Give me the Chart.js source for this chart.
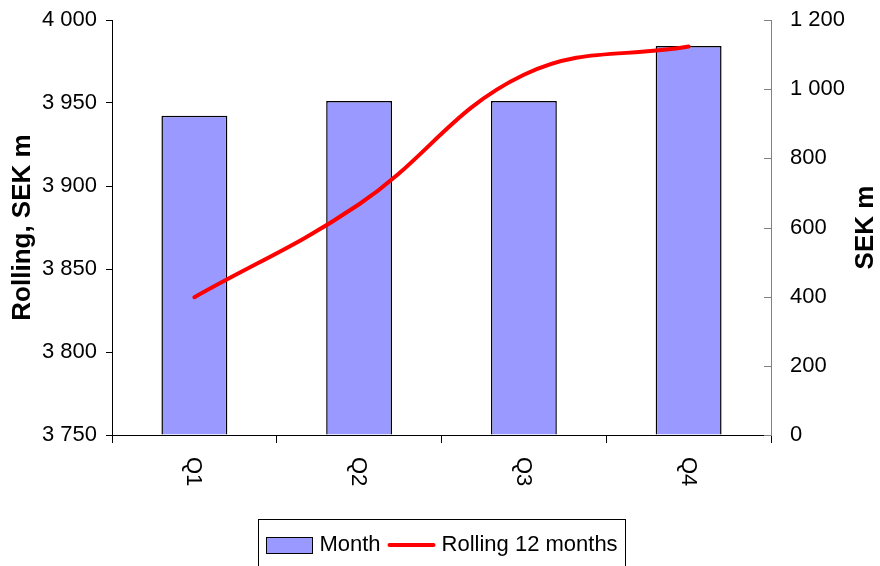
<!DOCTYPE html>
<html>
<head>
<meta charset="utf-8">
<script src="https://cdn.jsdelivr.net/npm/chart.js@4/dist/chart.umd.min.js"></script>
<style>
    body { margin: 0; background: #fff; }
    #divGrafico { width: 880px; height: 566px; }
</style>
</head>
<body>
<div id="divGrafico"><canvas id="graficoTrimestres"></canvas></div>
<script>
const trimestres = ['Q1', 'Q2', 'Q3', 'Q4'];
const mes = [923, 966, 966, 1125];
const rolling12 = [3833, 3889, 3967, 3984];
const ticksIzq = [3750, 3800, 3850, 3900, 3950, 4000];
const ticksDer = [0, 200, 400, 600, 800, 1000, 1200];
const nombres = ['Month', 'Rolling 12 months'];

const fuente = '"Liberation Sans", Arial, sans-serif';

function formatoMiles(v) {
    return String(v).replace(/\B(?=(\d{3})+(?!\d))/g, ' ');
}

// etiquetas Q giradas, titulo derecho, ticks internos y leyenda con marco
const extras = {
    id: 'extras',
    afterDraw: function (chart) {
        const ctx = chart.ctx;
        const x = chart.scales.x;
        const y1 = chart.scales.y1;
        const area = chart.chartArea;

        ctx.save();
        ctx.fillStyle = '#000';
        ctx.font = '22px ' + fuente;
        ctx.textAlign = 'left';
        ctx.textBaseline = 'middle';
        trimestres.forEach(function (t, i) {
            ctx.save();
            ctx.translate(x.getPixelForValue(i), area.bottom + 22);
            ctx.rotate(Math.PI / 2);
            ctx.fillText(t, 0, 1);
            ctx.restore();
        });

        // ticks del eje derecho hacia adentro
        ctx.strokeStyle = '#808080';
        ctx.lineWidth = 1;
        ticksDer.forEach(function (v) {
            const py = Math.round(y1.getPixelForValue(v)) + 0.5;
            ctx.beginPath();
            ctx.moveTo(area.right - 7, py);
            ctx.lineTo(area.right, py);
            ctx.stroke();
        });

        ctx.save();
        ctx.translate(866, (area.top + area.bottom) / 2);
        ctx.rotate(-Math.PI / 2);
        ctx.font = 'bold 26px ' + fuente;
        ctx.textAlign = 'center';
        ctx.textBaseline = 'middle';
        ctx.fillText('SEK m', 0, 0);
        ctx.restore();

        // leyenda
        ctx.font = '22px ' + fuente;
        const w1 = ctx.measureText(nombres[0]).width;
        const w2 = ctx.measureText(nombres[1]).width;
        const total = 46 + 7 + w1 + 7 + 48 + 6 + w2;
        let lx = 442 - total / 2;
        const cy = 545;

        ctx.strokeStyle = '#000';
        ctx.lineWidth = 1;
        ctx.strokeRect(Math.round(lx - 8) + 0.5, 519.5, Math.round(total + 16), 60);

        ctx.fillStyle = '#9999FF';
        ctx.fillRect(lx, cy - 8, 46, 16);
        ctx.strokeRect(Math.round(lx) + 0.5, cy - 8 + 0.5, 46, 16);
        lx += 46 + 7;
        ctx.fillStyle = '#000';
        ctx.textBaseline = 'middle';
        ctx.fillText(nombres[0], lx, cy);
        lx += w1 + 7;
        ctx.strokeStyle = '#FF0000';
        ctx.lineWidth = 4;
        ctx.lineCap = 'round';
        ctx.beginPath();
        ctx.moveTo(lx + 2, cy);
        ctx.lineTo(lx + 46, cy);
        ctx.stroke();
        lx += 48 + 6;
        ctx.fillText(nombres[1], lx, cy);
        ctx.restore();
    }
};

const ctx = document.getElementById('graficoTrimestres');

const datasets = [
    {
        type: 'bar',
        label: nombres[0],
        data: mes,
        yAxisID: 'y1',
        backgroundColor: '#9999FF',
        borderColor: '#000',
        borderWidth: 1.5,
        categoryPercentage: 1,
        barPercentage: 0.4,
        order: 2
    },
    {
        type: 'line',
        label: nombres[1],
        data: rolling12,
        yAxisID: 'y',
        borderColor: '#FF0000',
        borderWidth: 4,
        pointRadius: 0,
        tension: 0.4,
        borderCapStyle: 'round',
        order: 1
    }
];

const options = {
    responsive: true,
    maintainAspectRatio: false,
    animation: false,
    devicePixelRatio: 1,
    layout: {
        padding: { top: 20, left: 0, right: 0, bottom: 0 }
    },
    plugins: {
        legend: { display: false },
        tooltip: { enabled: false }
    },
    scales: {
        x: {
            offset: true,
            grid: {
                display: true,
                offset: true,
                drawOnChartArea: false,
                tickLength: 8,
                color: '#000'
            },
            border: { color: '#000' },
            ticks: { display: false },
            afterFit: function (scale) { scale.height = 131; }
        },
        y: {
            position: 'left',
            min: 3750,
            max: 4000,
            afterBuildTicks: function (scale) {
                scale.ticks = ticksIzq.map(function (v) { return { value: v }; });
            },
            grid: {
                drawOnChartArea: false,
                tickLength: 6,
                color: '#000'
            },
            border: { color: '#000' },
            ticks: {
                color: '#000',
                padding: 9,
                font: { size: 22, family: fuente, lineHeight: 1 },
                callback: formatoMiles
            },
            title: {
                display: true,
                text: 'Rolling, SEK m',
                color: '#000',
                font: { size: 26, weight: 'bold', family: fuente },
                padding: { top: 7, bottom: 0 }
            },
            afterFit: function (scale) { scale.width = 112; }
        },
        y1: {
            position: 'right',
            min: 0,
            max: 1200,
            afterBuildTicks: function (scale) {
                scale.ticks = ticksDer.map(function (v) { return { value: v }; });
            },
            // ticks invisibles solo para separar las etiquetas del eje
            grid: {
                drawOnChartArea: false,
                tickLength: 13,
                color: 'rgba(0,0,0,0)'
            },
            border: { display: true, color: '#808080' },
            ticks: {
                color: '#000',
                padding: 6,
                font: { size: 22, family: fuente, lineHeight: 1 },
                callback: formatoMiles
            },
            afterFit: function (scale) { scale.width = 109; }
        }
    }
};

new Chart(ctx, {
    plugins: [extras],
    data: {
        labels: trimestres,
        datasets: datasets
    },
    options: options
});
</script>
</body>
</html>
